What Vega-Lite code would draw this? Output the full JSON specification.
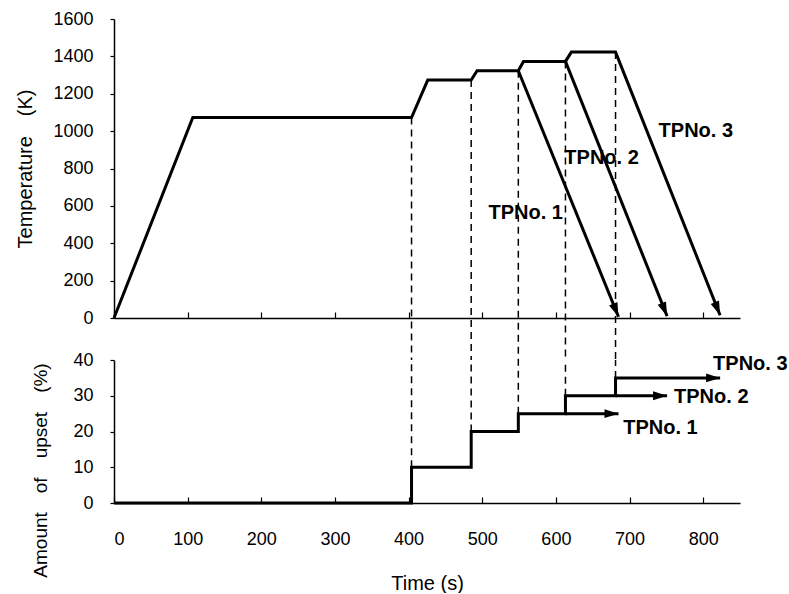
{
  "$schema": "https://vega.github.io/schema/vega-lite/v6.json",
  "background": "white",
  "padding": {"left": 15, "top": 10, "right": 0, "bottom": 0},
  "spacing": 42,
  "bounds": "flush",
  "config": {
    "view": {"stroke": null},
    "axis": {
      "grid": false,
      "domainColor": "black",
      "domainWidth": 1.5,
      "tickColor": "black",
      "tickWidth": 1.2,
      "labelColor": "black",
      "titleColor": "black",
      "labelFont": "Liberation Sans",
      "labelFontSize": 18,
      "titleFont": "Liberation Sans",
      "titleFontWeight": "normal",
      "labelOverlap": false
    }
  },
  "datasets": {
    "temp": [
      {"series": "main", "i": 0, "t": 0, "T": 0},
      {"series": "main", "i": 1, "t": 107, "T": 1073},
      {"series": "main", "i": 2, "t": 404, "T": 1073},
      {"series": "main", "i": 3, "t": 426, "T": 1273},
      {"series": "main", "i": 4, "t": 485, "T": 1273},
      {"series": "main", "i": 5, "t": 493, "T": 1323},
      {"series": "main", "i": 6, "t": 549, "T": 1323},
      {"series": "main", "i": 7, "t": 556, "T": 1373},
      {"series": "main", "i": 8, "t": 613, "T": 1373},
      {"series": "main", "i": 9, "t": 621, "T": 1423},
      {"series": "main", "i": 10, "t": 681, "T": 1423},
      {"series": "main", "i": 11, "t": 823, "T": 15},
      {"series": "TP1", "i": 0, "t": 549, "T": 1323},
      {"series": "TP1", "i": 1, "t": 685, "T": 7},
      {"series": "TP2", "i": 0, "t": 613, "T": 1373},
      {"series": "TP2", "i": 1, "t": 751, "T": 10}
    ],
    "tempTips": [
      {"t": 685, "T": 7},
      {"t": 751, "T": 10},
      {"t": 823, "T": 15}
    ],
    "upset": [
      {"series": "main", "i": 0, "t": 0, "U": 0},
      {"series": "main", "i": 1, "t": 404, "U": 0},
      {"series": "main", "i": 2, "t": 404, "U": 10},
      {"series": "main", "i": 3, "t": 485, "U": 10},
      {"series": "main", "i": 4, "t": 485, "U": 20},
      {"series": "main", "i": 5, "t": 549, "U": 20},
      {"series": "main", "i": 6, "t": 549, "U": 25},
      {"series": "main", "i": 7, "t": 613, "U": 25},
      {"series": "main", "i": 8, "t": 613, "U": 30},
      {"series": "main", "i": 9, "t": 681, "U": 30},
      {"series": "main", "i": 10, "t": 681, "U": 35},
      {"series": "main", "i": 11, "t": 823, "U": 35},
      {"series": "TP1", "i": 0, "t": 613, "U": 25},
      {"series": "TP1", "i": 1, "t": 685, "U": 25},
      {"series": "TP2", "i": 0, "t": 681, "U": 30},
      {"series": "TP2", "i": 1, "t": 751, "U": 30}
    ],
    "upsetTips": [
      {"t": 685, "U": 25},
      {"t": 751, "U": 30},
      {"t": 823, "U": 35}
    ],
    "stepsTop": [
      {"t": 404, "T": 1073, "Tend": -225},
      {"t": 485, "T": 1273, "Tend": -225},
      {"t": 549, "T": 1323, "Tend": -225},
      {"t": 613, "T": 1373, "Tend": -225},
      {"t": 681, "T": 1423, "Tend": -225}
    ],
    "stepsBot": [
      {"t": 404, "U": 10, "Uend": 40},
      {"t": 485, "U": 20, "Uend": 40},
      {"t": 549, "U": 25, "Uend": 40},
      {"t": 613, "U": 30, "Uend": 40},
      {"t": 681, "U": 35, "Uend": 40}
    ],
    "topLabels": [
      {"name": "TPNo. 1", "t": 559, "T": 569},
      {"name": "TPNo. 2", "t": 662, "T": 859},
      {"name": "TPNo. 3", "t": 790, "T": 1007}
    ],
    "botLabels": [
      {"name": "TPNo. 1", "t": 742, "U": 21.3},
      {"name": "TPNo. 2", "t": 811, "U": 29.8},
      {"name": "TPNo. 3", "t": 864, "U": 39.2}
    ]
  },
  "vconcat": [
    {
      "width": 626,
      "height": 299,
      "encoding": {
        "x": {"field": "t", "type": "quantitative", "scale": {"domain": [0, 850], "nice": false},
          "axis": {"values": [0, 100, 200, 300, 400, 500, 600, 700, 800], "labels": false, "title": null, "tickSize": -6}},
        "y": {"field": "T", "type": "quantitative", "scale": {"domain": [0, 1600], "nice": false},
          "axis": {"values": [0, 200, 400, 600, 800, 1000, 1200, 1400, 1600], "format": "d", "title": "Temperature　(K)", "titleFontSize": 20, "tickSize": 4, "labelPadding": 17, "titlePadding": 17}}
      },
      "layer": [
        {
          "data": {"name": "temp"},
          "mark": {"type": "line", "strokeWidth": 3, "color": "black", "strokeJoin": "miter"},
          "encoding": {
            "detail": {"field": "series", "type": "nominal"},
            "order": {"field": "i", "type": "quantitative"}
          }
        },
        {
          "data": {"name": "stepsTop"},
          "mark": {"type": "rule", "strokeDash": [7, 5], "strokeWidth": 1.5, "color": "black"},
          "encoding": {
            "y2": {"field": "Tend"}
          }
        },
        {
          "data": {"name": "tempTips"},
          "mark": {"type": "point", "shape": "M0,0L-0.32,-1L0.32,-1Z", "size": 784, "angle": -22, "filled": true, "color": "black", "opacity": 1}
        },
        {
          "data": {"name": "topLabels"},
          "mark": {"type": "text", "font": "Liberation Sans", "fontWeight": "bold", "fontSize": 20, "color": "black", "align": "center", "baseline": "middle", "dy": 1},
          "encoding": {
            "text": {"field": "name", "type": "nominal"}
          }
        }
      ]
    },
    {
      "width": 626,
      "height": 143,
      "encoding": {
        "x": {"field": "t", "type": "quantitative", "scale": {"domain": [0, 850], "nice": false},
          "axis": {"values": [0, 100, 200, 300, 400, 500, 600, 700, 800], "title": "Time  (s)", "titleFontSize": 20, "tickSize": -6, "labelPadding": 33, "titlePadding": 25}},
        "y": {"field": "U", "type": "quantitative", "scale": {"domain": [0, 40], "nice": false},
          "axis": {"values": [0, 10, 20, 30, 40], "title": "Amount　of　upset　(%)", "titleFontSize": 19, "tickSize": 4, "labelPadding": 17, "titlePadding": 22, "titleY": 110}}
      },
      "layer": [
        {
          "data": {"name": "upset"},
          "mark": {"type": "line", "strokeWidth": 3, "color": "black", "strokeJoin": "miter"},
          "encoding": {
            "detail": {"field": "series", "type": "nominal"},
            "order": {"field": "i", "type": "quantitative"}
          }
        },
        {
          "data": {"name": "stepsBot"},
          "mark": {"type": "rule", "strokeDash": [7, 5], "strokeWidth": 1.5, "color": "black"},
          "encoding": {
            "y2": {"field": "Uend"}
          }
        },
        {
          "data": {"name": "upsetTips"},
          "mark": {"type": "point", "shape": "M0,0L-1,-0.32L-1,0.32Z", "size": 784, "filled": true, "color": "black", "opacity": 1}
        },
        {
          "data": {"name": "botLabels"},
          "mark": {"type": "text", "font": "Liberation Sans", "fontWeight": "bold", "fontSize": 20, "color": "black", "align": "center", "baseline": "middle", "dy": 1},
          "encoding": {
            "text": {"field": "name", "type": "nominal"}
          }
        }
      ]
    }
  ]
}
